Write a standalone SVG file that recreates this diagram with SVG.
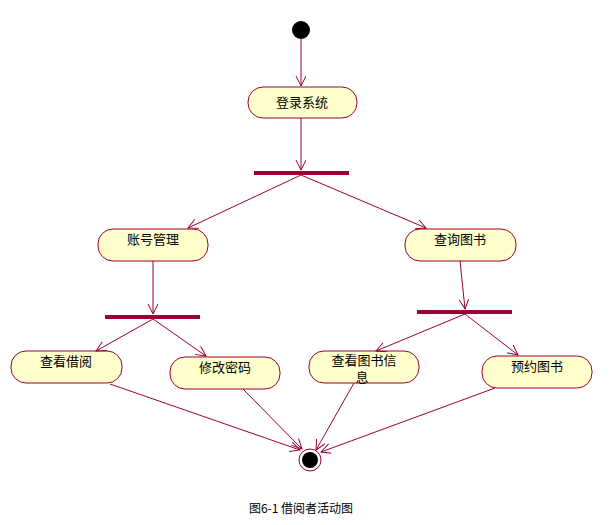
<svg xmlns="http://www.w3.org/2000/svg" width="612" height="525" viewBox="0 0 612 525">
<defs>
<style>
.n rect{fill:#ffffcc;stroke:#990033;stroke-width:1}
.t{font-family:"Noto Sans CJK SC","Liberation Sans",sans-serif;font-size:13px;fill:#000;text-anchor:middle}
.bar{fill:#990033}
#c line{stroke:#990033;stroke-width:1;fill:none}
</style>
<marker id="a" markerWidth="12" markerHeight="12" refX="10" refY="5" orient="auto" markerUnits="userSpaceOnUse">
<polyline points="0,0 10,5 0,10" fill="none" stroke="#990033" stroke-width="1"/>
</marker>
</defs>
<rect width="612" height="525" fill="#fff"/>
<g id="start"><circle cx="301" cy="30" r="9" fill="#000"/></g>
<g id="login" class="n"><rect x="248" y="87" width="109" height="31" rx="15"/><text class="t" x="302" y="107">登录系统</text></g>
<g id="fork1"><rect class="bar" x="254" y="171" width="95" height="4"/></g>
<g id="acct" class="n"><rect x="98" y="229" width="110" height="32" rx="15"/><text class="t" x="153" y="244">账号管理</text></g>
<g id="query" class="n"><rect x="405" y="229" width="111" height="32" rx="15"/><text class="t" x="460" y="244">查询图书</text></g>
<g id="fork2"><rect class="bar" x="105" y="315" width="95" height="4"/></g>
<g id="fork3"><rect class="bar" x="417" y="310" width="95" height="4"/></g>
<g id="borrow" class="n"><rect x="11" y="351" width="111" height="32" rx="15"/><text class="t" x="66" y="366">查看借阅</text></g>
<g id="pwd" class="n"><rect x="170" y="357" width="110" height="32" rx="15"/><text class="t" x="225" y="372">修改密码</text></g>
<g id="info" class="n"><rect x="309" y="351" width="110" height="32" rx="15"/><text class="t" x="364" y="365">查看图书信</text><text class="t" x="362" y="382">息</text></g>
<g id="reserve" class="n"><rect x="482" y="356" width="110" height="32" rx="15"/><text class="t" x="537" y="371">预约图书</text></g>
<g id="end"><circle cx="310" cy="460" r="11" fill="#fff" stroke="#990033"/><circle cx="310" cy="460" r="8" fill="#000"/></g>
<g id="c">
<line x1="301" y1="39" x2="301" y2="86" marker-end="url(#a)"/>
<line x1="301" y1="118" x2="301" y2="170" marker-end="url(#a)"/>
<line x1="301" y1="175" x2="188" y2="228" marker-end="url(#a)"/>
<line x1="301" y1="175" x2="426" y2="228" marker-end="url(#a)"/>
<line x1="153" y1="261" x2="153" y2="314" marker-end="url(#a)"/>
<line x1="460" y1="261" x2="465" y2="309" marker-end="url(#a)"/>
<line x1="153" y1="319" x2="96" y2="351" marker-end="url(#a)"/>
<line x1="153" y1="319" x2="206" y2="356" marker-end="url(#a)"/>
<line x1="465" y1="314" x2="376" y2="351" marker-end="url(#a)"/>
<line x1="465" y1="314" x2="518" y2="355" marker-end="url(#a)"/>
<line x1="110" y1="384" x2="300" y2="450" marker-end="url(#a)"/>
<line x1="243" y1="389" x2="302" y2="449" marker-end="url(#a)"/>
<line x1="354" y1="383" x2="316" y2="450" marker-end="url(#a)"/>
<line x1="495" y1="388" x2="321" y2="452" marker-end="url(#a)"/>
</g>
<text x="301" y="513" style="font-family:'Noto Sans CJK SC','Liberation Sans',sans-serif;font-size:12px;text-anchor:middle">图6-1 借阅者活动图</text>
</svg>
